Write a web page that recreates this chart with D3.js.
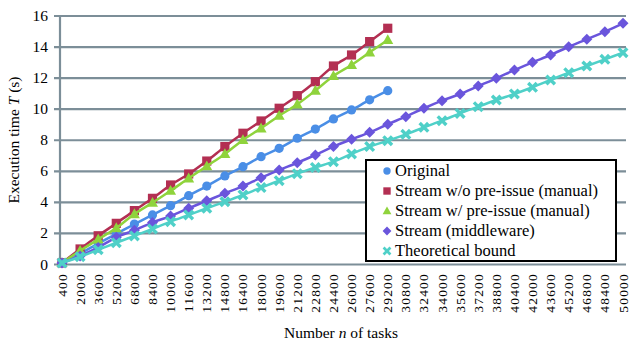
<!DOCTYPE html>
<html><head><meta charset="utf-8">
<script src="https://cdn.jsdelivr.net/npm/d3@7"></script>
<style>body{margin:0;background:#fff}svg{display:block}text{font-family:"Liberation Serif","Times New Roman",serif;fill:#000}</style>
</head><body><svg id="c" width="630" height="343"></svg>
<script>
const categories = [400,2000,3600,5200,6800,8400,10000,11600,13200,14800,16400,18000,19600,21200,22800,24400,26000,27600,29200,30800,32400,34000,35600,37200,38800,40400,42000,43600,45200,46800,48400,50000];
const yTicks = [0,2,4,6,8,10,12,14,16];
const seriesNames = ["Original","Stream w/o pre-issue (manual)","Stream w/ pre-issue (manual)","Stream (middleware)","Theoretical bound"];
const original = [0.1,0.7,1.35,1.97,2.6,3.19,3.79,4.43,5.05,5.7,6.3,6.94,7.48,8.13,8.72,9.37,9.95,10.6,11.19];
const streamNoPre = [0.1,1.0,1.85,2.65,3.47,4.26,5.12,5.83,6.66,7.59,8.45,9.24,10.06,10.87,11.77,12.78,13.49,14.35,15.21];
const streamPre = [0.1,0.89,1.62,2.35,3.25,3.98,4.75,5.55,6.33,7.12,8.02,8.77,9.58,10.31,11.2,12.14,12.85,13.66,14.46];
const middleware = [0.1,0.55,1.1,1.75,2.2,2.7,3.12,3.62,4.1,4.58,5.05,5.59,6.08,6.55,7.05,7.59,8.06,8.51,9.03,9.52,10.06,10.55,10.98,11.49,11.99,12.52,13.02,13.49,14.02,14.5,14.99,15.53];
const bound = [0.1,0.5,0.95,1.4,1.84,2.29,2.76,3.19,3.62,4.04,4.48,4.95,5.4,5.85,6.25,6.62,7.12,7.59,7.97,8.38,8.83,9.26,9.73,10.16,10.59,10.98,11.41,11.88,12.35,12.78,13.21,13.64];

const colors = ["#4a8ee6","#b32f52","#8fd33c","#6a55dc","#4fd0c8"];
const allData = [original,streamNoPre,streamPre,middleware,bound];

const svg = d3.select("#c");
const x = d3.scalePoint().domain(categories).range([62,623]);
const y = d3.scaleLinear().domain([0,16]).range([264.5,16]);
const gridColor = "#7c8e98";

svg.append("g").selectAll("line").data(yTicks).join("line")
  .attr("x1",54).attr("x2",626).attr("y1",d=>y(d)).attr("y2",d=>y(d))
  .attr("stroke",gridColor).attr("stroke-width",2.2);
svg.append("line").attr("x1",60).attr("x2",60).attr("y1",y(16)).attr("y2",y(0)+1)
  .attr("stroke",gridColor).attr("stroke-width",2.2);

svg.append("g").selectAll("text").data(yTicks).join("text")
  .attr("x",48).attr("y",d=>y(d)+5).attr("text-anchor","end")
  .attr("font-size",15.5).text(d=>d);

svg.append("g").selectAll("text").data(categories).join("text")
  .attr("transform",d=>`translate(${x(d)+4.5},273) rotate(-90)`)
  .attr("text-anchor","end").attr("font-size",13.5).attr("letter-spacing","1.2px")
  .text(d=>d);

const yt = svg.append("text").attr("transform","translate(19,140) rotate(-90)")
  .attr("text-anchor","middle").attr("font-size",15.5);
yt.append("tspan").text("Execution time ");
yt.append("tspan").attr("font-style","italic").text("T");
yt.append("tspan").text(" (s)");
const xt = svg.append("text").attr("x",341).attr("y",338).attr("text-anchor","middle").attr("font-size",15.5);
xt.append("tspan").text("Number ");
xt.append("tspan").attr("font-style","italic").text("n");
xt.append("tspan").text(" of tasks");

function marker(g, i, px, py, s) {
  let d;
  if (i === 0) {
    g.append("circle").attr("cx",px).attr("cy",py).attr("r",4.6*s).attr("fill",colors[i]); return;
  } else if (i === 1) {
    const h = 4.6*s; d = `M${px-h},${py-h}h${2*h}v${2*h}h${-2*h}Z`;
  } else if (i === 2) {
    const h = 5.5*s; d = `M${px},${py-h*1.05}L${px+h},${py+h*0.75}L${px-h},${py+h*0.75}Z`;
  } else if (i === 3) {
    const h = 5.5*s; d = `M${px},${py-h}L${px+h},${py}L${px},${py+h}L${px-h},${py}Z`;
  } else {
    const h = 4.3*s;
    g.append("path").attr("d",`M${px-h},${py-h}L${px+h},${py+h}M${px-h},${py+h}L${px+h},${py-h}`)
      .attr("stroke",colors[i]).attr("stroke-width",3.4*s);
    return;
  }
  g.append("path").attr("d",d).attr("fill",colors[i]);
}

const line = d3.line().x((d,j)=>x(categories[j])).y(d=>y(d)).curve(d3.curveMonotoneX);
allData.forEach((vals,i)=>{
  const g = svg.append("g");
  g.append("path").datum(vals).attr("d",line).attr("fill","none")
    .attr("stroke",colors[i]).attr("stroke-width",2.5);
  vals.forEach((v,j)=>marker(g,i,x(categories[j]),y(v),1));
});

const lg = svg.append("g");
lg.append("rect").attr("x",366).attr("y",160).attr("width",250).attr("height",101)
  .attr("fill","#fff").attr("stroke","#000").attr("stroke-width",2);
seriesNames.forEach((n,i)=>{
  const ly = 171 + i*20;
  marker(lg,i,387,ly,0.8);
  lg.append("text").attr("x",395).attr("y",ly+5).attr("font-size",16.5).text(n);
});
</script></body></html>
